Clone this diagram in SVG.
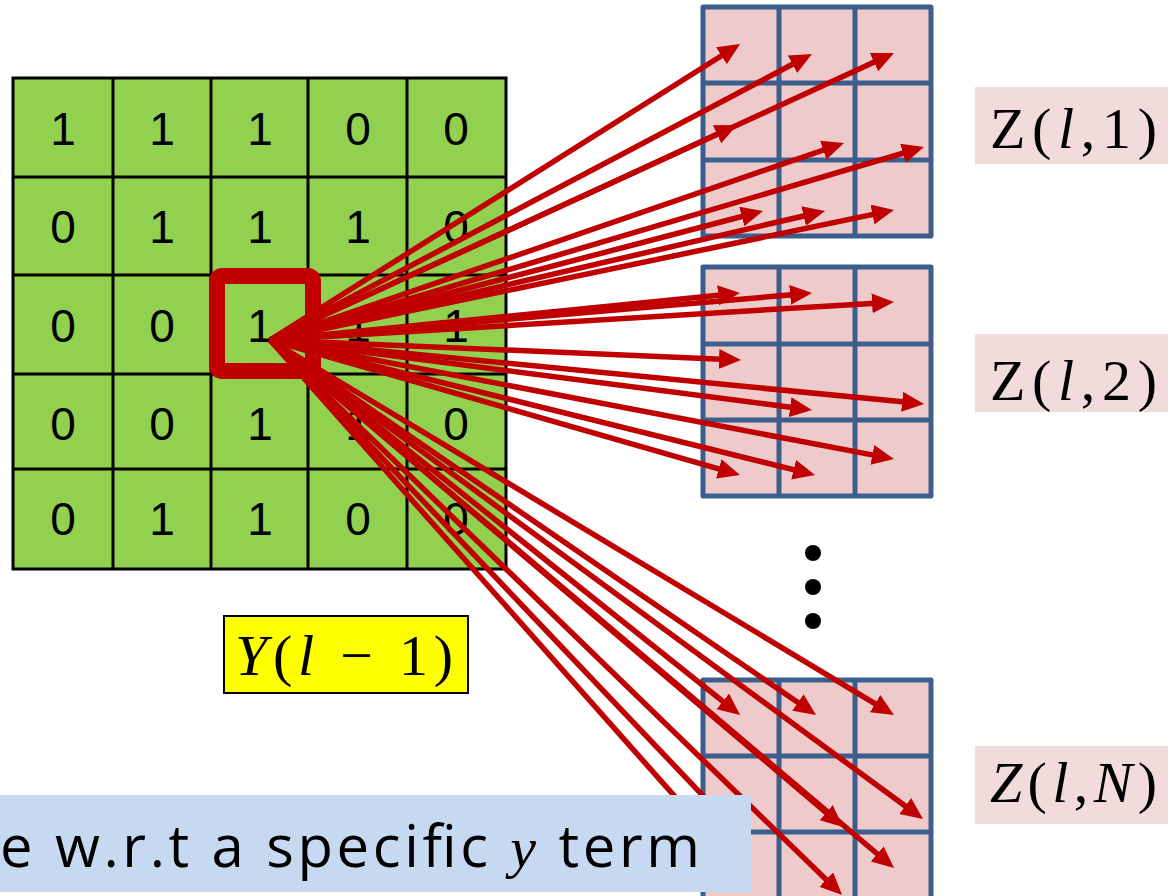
<svg xmlns="http://www.w3.org/2000/svg" width="1176" height="896" viewBox="0 0 1176 896">
<style>
.gl{stroke:#000;stroke-width:3;fill:none}
.dg{font-family:"Liberation Sans",Arial,sans-serif;font-size:46px;fill:#000;text-anchor:middle}
.pk{fill:#eecaca}
.pl{stroke:#3b5e8c;stroke-width:5;fill:none;stroke-linejoin:round}
.lb{fill:#f2dcdb}
.mt{font-family:"Liberation Serif","Times New Roman",serif;font-size:58px;fill:#000}
.it{font-style:italic}
.ar{stroke:#c00000;stroke-width:5.5;fill:none;marker-end:url(#ah)}
</style>
<defs>
<marker id="ah" markerUnits="userSpaceOnUse" markerWidth="24" markerHeight="22" refX="8" refY="10" orient="auto">
<path d="M0,0 L22,10 L0,20 z" fill="#c00000"/>
</marker>
</defs>
<rect width="1176" height="896" fill="#fff"/>

<g id="grid-Y">
<rect x="13" y="78" width="493" height="491" fill="#92d050"/>
<path class="gl" d="M13,78H506V569H13Z M113,78V569 M211,78V569 M308,78V569 M407,78V569 M13,177H506 M13,275H506 M13,374H506 M13,469H506"/>
<g class="dg">
<text x="63" y="145">1</text><text x="162" y="145">1</text><text x="260" y="145">1</text><text x="358" y="145">0</text><text x="456" y="145">0</text>
<text x="63" y="243">0</text><text x="162" y="243">1</text><text x="260" y="243">1</text><text x="358" y="243">1</text><text x="456" y="243">0</text>
<text x="63" y="342">0</text><text x="162" y="342">0</text><text x="260" y="342">1</text><text x="358" y="342">1</text><text x="456" y="342">1</text>
<text x="63" y="440">0</text><text x="162" y="440">0</text><text x="260" y="440">1</text><text x="358" y="440">1</text><text x="456" y="440">0</text>
<text x="63" y="535">0</text><text x="162" y="535">1</text><text x="260" y="535">1</text><text x="358" y="535">0</text><text x="456" y="535">0</text>
</g>
</g>

<g id="highlight">
<rect x="217" y="276" width="96" height="95" rx="5" fill="none" stroke="#c00000" stroke-width="16"/>
</g>

<g id="grid-Z1">
<rect class="pk" x="703" y="7" width="228" height="229"/>
<path class="pl" d="M703,7H931V236H703Z M779,7V236 M855,7V236 M703,83H931 M703,160H931"/>
</g>
<g id="grid-Z2">
<rect class="pk" x="703" y="267" width="228" height="229"/>
<path class="pl" d="M703,267H931V496H703Z M779,267V496 M855,267V496 M703,344H931 M703,420H931"/>
</g>
<g id="grid-ZN">
<rect class="pk" x="703" y="680" width="228" height="240"/>
<path class="pl" d="M703,920V680H931V920 M779,680V920 M855,680V920 M703,756H931 M703,832H931"/>
</g>

<g id="label-Z1">
<rect class="lb" x="975" y="87" width="193" height="77"/>
<text class="mt" x="990" y="148" textLength="167" lengthAdjust="spacing">Z(<tspan class="it">l</tspan>,1)</text>
</g>
<g id="label-Z2">
<rect class="lb" x="975" y="334" width="193" height="78"/>
<text class="mt" x="990" y="400" textLength="167" lengthAdjust="spacing">Z(<tspan class="it">l</tspan>,2)</text>
</g>
<g id="label-ZN">
<rect class="lb" x="975" y="746" width="193" height="78"/>
<text class="mt" x="990" y="802" textLength="167" lengthAdjust="spacing"><tspan class="it">Z</tspan>(<tspan class="it">l</tspan>,<tspan class="it">N</tspan>)</text>
</g>

<g id="label-Y">
<rect x="224" y="616" width="244" height="77" fill="#ffff00" stroke="#000" stroke-width="2"/>
<text class="mt" x="235" y="675" font-size="60" textLength="218" lengthAdjust="spacing"><tspan class="it">Y</tspan>(<tspan class="it">l</tspan> − 1)</text>
</g>

<g id="dots" fill="#000">
<circle cx="813" cy="553" r="8"/>
<circle cx="813" cy="587" r="8"/>
<circle cx="813" cy="621" r="8"/>
</g>

<g id="connectors">
<line class="ar" x1="270" y1="340" x2="728.2" y2="51.5"/>
<line class="ar" x1="270" y1="340" x2="799.6" y2="60.5"/>
<line class="ar" x1="270" y1="340" x2="881.3" y2="58.8"/>
<line class="ar" x1="270" y1="340" x2="724.3" y2="130.9"/>
<line class="ar" x1="270" y1="340" x2="830.8" y2="147.5"/>
<line class="ar" x1="270" y1="340" x2="910.6" y2="151.0"/>
<line class="ar" x1="270" y1="340" x2="749.5" y2="214.5"/>
<line class="ar" x1="270" y1="340" x2="811.4" y2="214.2"/>
<line class="ar" x1="270" y1="340" x2="880.3" y2="212.9"/>

<line class="ar" x1="270" y1="340" x2="726.1" y2="294.4"/>
<line class="ar" x1="270" y1="340" x2="798.1" y2="294.2"/>
<line class="ar" x1="270" y1="340" x2="880.0" y2="302.9"/>
<line class="ar" x1="270" y1="340" x2="727.0" y2="359.4"/>
<line class="ar" x1="270" y1="340" x2="910.1" y2="402.6"/>
<line class="ar" x1="270" y1="340" x2="798.1" y2="408.2"/>
<line class="ar" x1="270" y1="340" x2="880.2" y2="456.4"/>
<line class="ar" x1="270" y1="340" x2="726.5" y2="471.1"/>
<line class="ar" x1="270" y1="340" x2="801.4" y2="471.6"/>

<line class="ar" x1="270" y1="340" x2="729.1" y2="706.3"/>
<line class="ar" x1="270" y1="340" x2="804.5" y2="707.1"/>
<line class="ar" x1="270" y1="340" x2="882.0" y2="707.8"/>
<line class="ar" x1="270" y1="340" x2="735.4" y2="829.8"/>
<line class="ar" x1="270" y1="340" x2="832.3" y2="817.9"/>
<line class="ar" x1="270" y1="340" x2="911.7" y2="810.7"/>
<line class="ar" x1="270" y1="340" x2="730.7" y2="859.5"/>
<line class="ar" x1="270" y1="340" x2="832.0" y2="885.2"/>
<line class="ar" x1="270" y1="340" x2="883.3" y2="859.0"/>
</g>

<g id="caption">
<rect x="0" y="795" width="751" height="97" fill="#c6d9f0"/>
<text x="0" y="867" font-family="'Open Sans','DejaVu Sans',sans-serif" font-size="58" fill="#000" textLength="700" lengthAdjust="spacing">e w.r.t a specific <tspan font-family="'Liberation Serif',serif" font-style="italic">y</tspan> term</text>
</g>
</svg>
